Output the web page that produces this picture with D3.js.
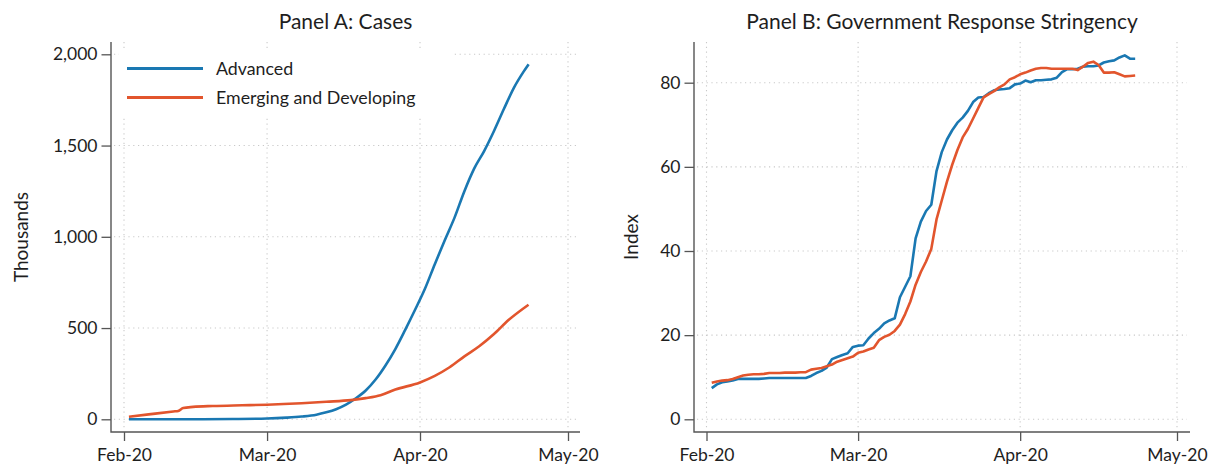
<!DOCTYPE html>
<html>
<head>
<meta charset="utf-8">
<script src="https://cdn.jsdelivr.net/npm/d3@7"></script>
<style>
  body { margin: 0; background: #fff; }
  svg text { font-family: Lato, "Open Sans", sans-serif; fill: #1e1e1e; }
</style>
</head>
<body>
<svg width="1214" height="466"></svg>
<script>
// ---- data ----
var seriesNames = ["Advanced", "Emerging and Developing"];
var monthTicks = ["2020-02-01", "2020-03-01", "2020-04-01", "2020-05-01"];
var caseTicks = [0, 500, 1000, 1500, 2000];
var indexTicks = [0, 20, 40, 60, 80];

// Panel A: cumulative cases, thousands
var advCaseDates = ["2020-02-02","2020-02-09","2020-02-16","2020-02-23","2020-03-01","2020-03-05",
  "2020-03-08","2020-03-11","2020-03-13","2020-03-15","2020-03-17","2020-03-19","2020-03-21",
  "2020-03-23","2020-03-25","2020-03-27","2020-03-29","2020-03-31","2020-04-02","2020-04-04",
  "2020-04-06","2020-04-08","2020-04-10","2020-04-12","2020-04-14","2020-04-16","2020-04-18",
  "2020-04-20","2020-04-22","2020-04-23"];
var advCases = [0.1, 0.3, 0.6, 1.5, 4, 9, 15, 25, 38, 55, 80, 115, 158, 218, 295, 385, 490, 600,
  715, 850, 980, 1105, 1250, 1375, 1470, 1580, 1700, 1815, 1905, 1945];

var emdCaseDates = ["2020-02-02","2020-02-06","2020-02-11","2020-02-12","2020-02-13","2020-02-15",
  "2020-02-19","2020-02-25","2020-03-01","2020-03-08","2020-03-13","2020-03-18","2020-03-21",
  "2020-03-24","2020-03-27","2020-04-01","2020-04-04","2020-04-07","2020-04-10","2020-04-13",
  "2020-04-16","2020-04-19","2020-04-23"];
var emdCases = [14, 27, 43, 46, 62, 68, 73, 77, 80, 88, 96, 105, 116, 132, 163, 202, 238, 285,
  345, 400, 467, 545, 628];

// Panel B: stringency index, daily 2 Feb - 23 Apr
var indexDays = d3.timeDays(new Date(2020, 1, 2), new Date(2020, 3, 24));
var advIndex = [
  7.4, 8.3, 8.8, 9.0, 9.2, 9.6, 9.6, 9.6, 9.6, 9.6,
  9.7, 9.8, 9.8, 9.8, 9.8, 9.8, 9.8, 9.8, 9.8, 10.3,
  11.0, 11.5, 12.3, 14.3, 14.8, 15.3, 15.7, 17.2, 17.5, 17.6,
  19.2, 20.5, 21.5, 22.8, 23.5, 24.0, 29.0, 31.5, 34.0, 43.0,
  47.0, 49.5, 51.0, 59.0, 63.5, 66.5, 68.7, 70.5, 71.7, 73.3,
  75.4, 76.5, 76.6, 77.5, 78.2, 78.4, 78.5, 78.7, 79.6, 79.8,
  80.5, 80.1, 80.6, 80.6, 80.7, 80.8, 81.2, 82.5, 83.2, 83.2,
  83.3, 83.8, 83.9, 83.9, 84.1, 84.8, 85.1, 85.3, 86.0, 86.5,
  85.7, 85.7];
var emdIndex = [
  8.7, 9.0, 9.2, 9.3, 9.6, 10.0, 10.4, 10.6, 10.7, 10.7,
  10.8, 11.0, 11.0, 11.0, 11.1, 11.1, 11.1, 11.2, 11.2, 11.8,
  12.0, 12.2, 12.6, 13.0, 13.7, 14.1, 14.5, 14.9, 15.8, 16.1,
  16.6, 17.0, 18.8, 19.6, 20.1, 21.0, 22.5, 25.0, 28.0, 32.0,
  35.0, 37.5, 40.5, 47.5, 52.0, 56.5, 60.5, 64.0, 67.0, 69.0,
  71.5, 74.0, 76.5, 77.3, 78.0, 78.9, 79.6, 80.8, 81.3, 82.0,
  82.4, 82.9, 83.3, 83.5, 83.5, 83.3, 83.3, 83.3, 83.3, 83.3,
  83.0, 83.8, 84.7, 85.0, 84.2, 82.4, 82.4, 82.5, 82.0, 81.5,
  81.6, 81.7];

var colors = ["#1a78b2", "#e2552d"];
var parse = d3.timeParse("%Y-%m-%d");

// ---- layout ----
var svg = d3.select("svg");
var plotTop = 42, plotBottom = 432, axisColor = "#555";

var panels = [
  {
    title: "Panel A: Cases", ylabel: "Thousands",
    left: 111, right: 580, xr: [124, 568], yr: [419.3, 54.3], yd: [0, 2000],
    ticks: caseTicks, fmt: d3.format(","), labelX: 21, curve: d3.curveMonotoneX,
    series: [
      advCaseDates.map((d, i) => [parse(d), advCases[i]]),
      emdCaseDates.map((d, i) => [parse(d), emdCases[i]])
    ],
    legend: true
  },
  {
    title: "Panel B: Government Response Stringency", ylabel: "Index",
    left: 694, right: 1190, xr: [706.5, 1177], yr: [419.3, 82.7], yd: [0, 80],
    ticks: indexTicks, fmt: d3.format("d"), labelX: 631, curve: d3.curveLinear,
    series: [
      indexDays.map((d, i) => [d, advIndex[i]]),
      indexDays.map((d, i) => [d, emdIndex[i]])
    ],
    legend: false
  }
];

panels.forEach(function (p) {
  var x = d3.scaleTime().domain([parse(monthTicks[0]), parse(monthTicks[3])]).range(p.xr);
  var y = d3.scaleLinear().domain(p.yd).range(p.yr);
  var g = svg.append("g");

  // dotted grid
  var grid = g.append("g").attr("stroke", "#c9c9c9").attr("stroke-width", 1.1)
    .attr("stroke-dasharray", "1.2,3.6");
  grid.selectAll(".h").data(p.ticks).enter().append("line")
    .attr("x1", p.left + 3).attr("x2", p.right - 3)
    .attr("y1", d => y(d)).attr("y2", d => y(d));
  grid.selectAll(".v").data(monthTicks.map(parse)).enter().append("line")
    .attr("x1", d => x(d)).attr("x2", d => x(d))
    .attr("y1", plotTop).attr("y2", plotBottom - 3);

  // legend box hides the grid behind it
  if (p.legend) {
    g.append("rect").attr("x", 119).attr("y", 48).attr("width", 335).attr("height", 69)
      .attr("fill", "#fff");
  }

  // lines
  var line = d3.line().x(d => x(d[0])).y(d => y(d[1])).curve(p.curve);
  p.series.forEach(function (s, i) {
    g.append("path").datum(s).attr("d", line).attr("fill", "none")
      .attr("stroke", colors[i]).attr("stroke-width", 2.6).attr("stroke-linejoin", "round");
  });

  // axes
  var ya = g.append("g").attr("transform", `translate(${p.left},0)`)
    .call(d3.axisLeft(y).tickValues(p.ticks).tickFormat(p.fmt).tickSize(9.5).tickPadding(4));
  var xa = g.append("g").attr("transform", `translate(0,${plotBottom})`)
    .call(d3.axisBottom(x).tickValues(monthTicks.map(parse))
      .tickFormat(d3.timeFormat("%b-%y")).tickSize(9).tickPadding(8));
  [ya, xa].forEach(function (a) {
    a.select(".domain").remove();
    a.selectAll(".tick line").attr("stroke", axisColor).attr("stroke-width", 1.3);
    a.selectAll(".tick text").attr("font-size", 17.5).style("font-family", "Lato, sans-serif")
      .attr("fill", "#1e1e1e");
  });
  g.append("path").attr("fill", "none").attr("stroke", axisColor).attr("stroke-width", 1.4)
    .attr("d", `M${p.left},${plotTop}V${plotBottom}H${p.right}`);

  // titles
  g.append("text").attr("x", (p.left + p.right) / 2).attr("y", 29)
    .attr("text-anchor", "middle").attr("font-size", 21).text(p.title);
  g.append("text")
    .attr("transform", `translate(${p.labelX},${(plotTop + plotBottom) / 2}) rotate(-90)`)
    .attr("text-anchor", "middle").attr("dy", "0.35em").attr("font-size", 19).text(p.ylabel);

  if (p.legend) {
    var lg = g.append("g");
    seriesNames.forEach(function (name, i) {
      var ly = 68.5 + i * 29;
      lg.append("line").attr("x1", 127).attr("x2", 203).attr("y1", ly).attr("y2", ly)
        .attr("stroke", colors[i]).attr("stroke-width", 2.8);
      lg.append("text").attr("x", 216).attr("y", ly).attr("dy", "0.35em")
        .attr("font-size", 17.8).text(name);
    });
  }
});
</script>
</body>
</html>
